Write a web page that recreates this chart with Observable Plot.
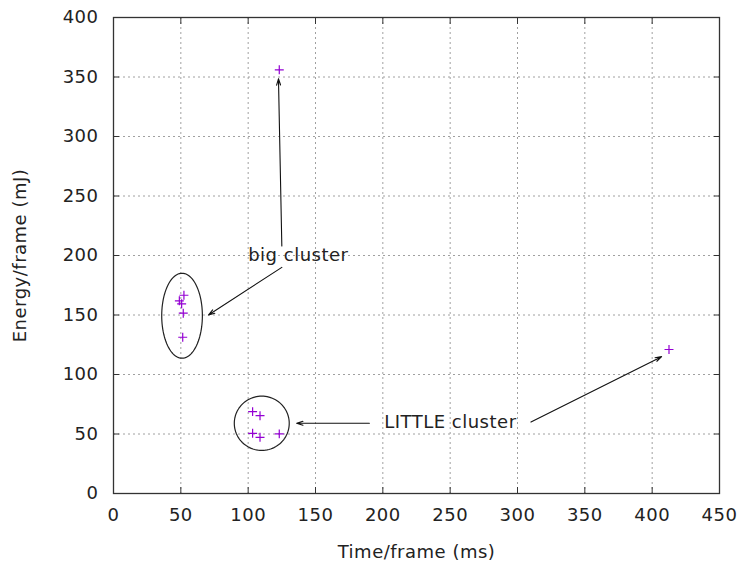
<!DOCTYPE html>
<html>
<head>
<meta charset="utf-8">
<script src="https://cdn.jsdelivr.net/npm/d3@7"></script>
<script src="https://cdn.jsdelivr.net/npm/@observablehq/plot@0.6"></script>
<style>
  html, body { margin: 0; padding: 0; background: #fff; }
  #chart svg text { letter-spacing: 0.5px; }
</style>
</head>
<body>
<div id="chart"></div>
<script>
// Measured points (Time/frame in ms, Energy/frame in mJ)
const timeMs   = [52.3, 48.9, 50.6, 51.8, 51.4, 103.3, 108.8, 103.3, 108.8, 123.1, 123.1, 412.5];
const energyMj = [166.6, 161.9, 159.4, 151.5, 131.3, 68.8, 65.4, 50.6, 47.2, 50.1, 356.0, 121.0];

// Tick values
const xTickValues = [0, 50, 100, 150, 200, 250, 300, 350, 400, 450];
const yTickValues = [0, 50, 100, 150, 200, 250, 300, 350, 400];

// Cluster ellipses (data units)
const ellipseCx = [50.9, 110.1];
const ellipseCy = [149.4, 59.0];
const ellipseRx = [15.1, 20.4];
const ellipseRy = [35.7, 22.8];

// Annotation arrows (data units)
const arrowX1 = [125, 125, 190, 310];
const arrowY1 = [208, 190, 59, 60];
const arrowX2 = [122.5, 70.5, 136, 407];
const arrowY2 = [348.5, 150, 59, 115];

// Annotation labels
const labelText = ["big cluster", "LITTLE cluster"];
const labelX = [100, 201];
const labelY = [200, 60];

const points = timeMs.map((t, i) => ({t, e: energyMj[i]}));
const arrows = arrowX1.map((x1, i) => ({x1, y1: arrowY1[i], x2: arrowX2[i], y2: arrowY2[i]}));
const labels = labelText.map((s, i) => ({s, x: labelX[i], y: labelY[i]}));
const ellipsePts = [];
ellipseCx.forEach((cx, k) => {
  const n = 96;
  for (let i = 0; i <= n; i++) {
    const a = (i / n) * 2 * Math.PI;
    ellipsePts.push({k, x: cx + ellipseRx[k] * Math.cos(a), y: ellipseCy[k] + ellipseRy[k] * Math.sin(a)});
  }
});

const gridStyle = {stroke: "#a0a0a0", strokeOpacity: 1, strokeWidth: 1, strokeDasharray: "2,3"};

const chart = Plot.plot({
  width: 742,
  height: 565,
  marginLeft: 113,
  marginRight: 23,
  marginTop: 17,
  marginBottom: 72,
  x: {domain: [0, 450]},
  y: {domain: [0, 400]},
  style: {fontFamily: "'DejaVu Sans', sans-serif", fontSize: "18px", color: "#222", background: "#fff"},
  marks: [
    Plot.gridX(xTickValues.slice(1, -1), gridStyle),
    Plot.gridY(yTickValues.slice(1, -1), gridStyle),
    Plot.axisX(xTickValues, {anchor: "bottom", tickSize: -6, tickPadding: 21, label: "Time/frame (ms)", labelAnchor: "center", labelOffset: 64, labelArrow: "none", stroke: "#333"}),
    Plot.axisX(xTickValues, {anchor: "top", tickSize: -6, tickFormat: () => "", label: null, stroke: "#333"}),
    Plot.axisY(yTickValues, {anchor: "left", tickSize: -6, tickPadding: 21, label: "Energy/frame (mJ)", labelAnchor: "center", labelOffset: 100, labelArrow: "none", stroke: "#333"}),
    Plot.axisY(yTickValues, {anchor: "right", tickSize: -6, tickFormat: () => "", label: null, stroke: "#333"}),
    Plot.line(ellipsePts, {x: "x", y: "y", z: "k", stroke: "#222", strokeWidth: 1.2}),
    Plot.arrow(arrows, {x1: "x1", y1: "y1", x2: "x2", y2: "y2", stroke: "#111", strokeWidth: 1.1, headLength: 9, headAngle: 35}),
    Plot.text(labels, {x: "x", y: "y", text: "s", textAnchor: "start", fill: "#222", fontSize: 18}),
    Plot.dot(points, {x: "t", y: "e", symbol: "plus", r: 3, stroke: "#9400d3", strokeWidth: 1.2}),
    Plot.frame({stroke: "#333", strokeWidth: 1.3})
  ]
});
document.getElementById("chart").appendChild(chart);
</script>
</body>
</html>
